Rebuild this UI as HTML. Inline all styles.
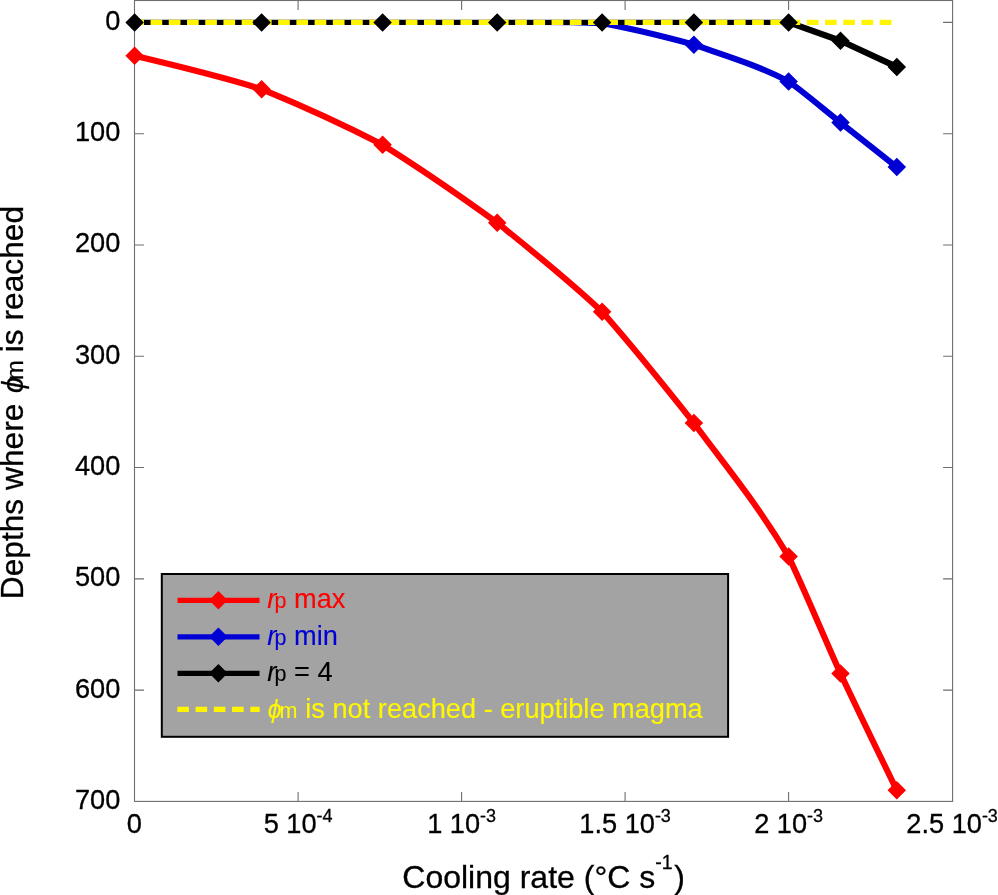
<!DOCTYPE html>
<html lang="en"><head><meta charset="utf-8"><title>Depths where ϕm is reached vs cooling rate</title>
<style>
html,body{margin:0;padding:0;background:#fff}
body{width:998px;height:895px;overflow:hidden}
svg{display:block}
text{font-family:"Liberation Sans",Arial,Helvetica,sans-serif;fill:#000;stroke:#000;stroke-width:.3px}
.tk{font-size:27.2px}
.sup{font-size:18px}
.ax{font-size:32px}
.lg{font-size:27.2px;stroke-width:.12px}
.sub{font-size:21.5px}
.it{font-style:italic}
</style></head><body>
<svg width="998" height="895" viewBox="0 0 998 895">
<rect width="998" height="895" fill="#fff"/>
<defs><clipPath id="cb"><rect x="530" y="19.9" width="420" height="200"/></clipPath></defs>
<g stroke="#6e6e6e" stroke-width="1.1" fill="none">
<rect x="134.5" y="0.5" width="818.1" height="800.9"/>
<path d="M298.1 801.4v-9.5 M298.1 0.5v9.5 M461.6 801.4v-9.5 M461.6 0.5v9.5 M625.1 801.4v-9.5 M625.1 0.5v9.5 M788.6 801.4v-9.5 M788.6 0.5v9.5 M134.5 22.4h9.5 M952.6 22.4h-9.5 M134.5 133.69h9.5 M952.6 133.69h-9.5 M134.5 244.98h9.5 M952.6 244.98h-9.5 M134.5 356.27h9.5 M952.6 356.27h-9.5 M134.5 467.56h9.5 M952.6 467.56h-9.5 M134.5 578.85h9.5 M952.6 578.85h-9.5 M134.5 690.14h9.5 M952.6 690.14h-9.5"/>
</g>
<g fill="none" stroke-linejoin="round">
<path d="M134.6 55.79 C176.93 65.85 219.27 75.91 261.6 89.17 C301.93 105.78 342.27 123.99 382.6 144.82 C420.8 168.74 459 195.07 497.2 222.72 C532.17 250.99 567.13 278.69 602.1 311.75 C632.7 346.25 663.3 384.46 693.9 423.04 C725.47 465.97 757.03 503.5 788.6 556.59 C805.9 592.97 823.2 635.23 840.5 673.45 C859.27 713.26 878.03 751.78 896.8 790.3" stroke="#ff0000" stroke-width="6.1"/>
<path d="M540 21.9C562 21.9 584 22.4 602.1 23.3 C632.7 28.82 663.3 36.37 693.9 44.66 C725.47 55.66 757.03 65.01 788.6 81.38 C805.9 93.87 823.2 108.85 840.5 122.56 C859.27 137.41 878.03 152.24 896.8 167.08" stroke="#0000d4" stroke-width="6.1" clip-path="url(#cb)"/>
<path d="M134.6 22.4H788.6" stroke="#000" stroke-width="5.2"/>
<path d="M788.6 22.4L840.5 40.76L896.8 66.92" stroke="#000" stroke-width="6.2"/>
<path d="M132.3 22.4H892" stroke="#fff500" stroke-width="5.2" stroke-dasharray="11.7 6.53"/>
</g>
<path fill="#ff0000" d="M134.6 46.54 l9.25 9.25 l-9.25 9.25 l-9.25 -9.25z M261.6 79.92 l9.25 9.25 l-9.25 9.25 l-9.25 -9.25z M382.6 135.57 l9.25 9.25 l-9.25 9.25 l-9.25 -9.25z M497.2 213.47 l9.25 9.25 l-9.25 9.25 l-9.25 -9.25z M602.1 302.5 l9.25 9.25 l-9.25 9.25 l-9.25 -9.25z M693.9 413.79 l9.25 9.25 l-9.25 9.25 l-9.25 -9.25z M788.6 547.34 l9.25 9.25 l-9.25 9.25 l-9.25 -9.25z M840.5 664.2 l9.25 9.25 l-9.25 9.25 l-9.25 -9.25z M896.8 781.05 l9.25 9.25 l-9.25 9.25 l-9.25 -9.25z"/>
<path fill="#0000d4" d="M693.9 35.41 l9.25 9.25 l-9.25 9.25 l-9.25 -9.25z M788.6 72.13 l9.25 9.25 l-9.25 9.25 l-9.25 -9.25z M840.5 113.31 l9.25 9.25 l-9.25 9.25 l-9.25 -9.25z M896.8 157.83 l9.25 9.25 l-9.25 9.25 l-9.25 -9.25z"/>
<path fill="#000" d="M134.6 13.15 l9.25 9.25 l-9.25 9.25 l-9.25 -9.25z M261.6 13.15 l9.25 9.25 l-9.25 9.25 l-9.25 -9.25z M382.6 13.15 l9.25 9.25 l-9.25 9.25 l-9.25 -9.25z M497.2 13.15 l9.25 9.25 l-9.25 9.25 l-9.25 -9.25z M602.1 13.15 l9.25 9.25 l-9.25 9.25 l-9.25 -9.25z M693.9 13.15 l9.25 9.25 l-9.25 9.25 l-9.25 -9.25z M788.6 13.15 l9.25 9.25 l-9.25 9.25 l-9.25 -9.25z M840.5 31.51 l9.25 9.25 l-9.25 9.25 l-9.25 -9.25z M896.8 57.67 l9.25 9.25 l-9.25 9.25 l-9.25 -9.25z"/>
<g class="tk" text-anchor="end">
<text x="120.3" y="29.9">0</text>
<text x="120.3" y="141.19">100</text>
<text x="120.3" y="252.48">200</text>
<text x="120.3" y="363.77">300</text>
<text x="120.3" y="475.06">400</text>
<text x="120.3" y="586.35">500</text>
<text x="120.3" y="697.64">600</text>
<text x="120.3" y="808.93">700</text>
</g>
<g class="tk" text-anchor="middle">
<text x="134.4" y="833.4">0</text>
<text x="298.1" y="833.4">5 10<tspan class="sup" dy="-11">-4</tspan></text>
<text x="461.6" y="833.4">1 10<tspan class="sup" dy="-11">-3</tspan></text>
<text x="625.1" y="833.4">1.5 10<tspan class="sup" dy="-11">-3</tspan></text>
<text x="788.6" y="833.4">2 10<tspan class="sup" dy="-11">-3</tspan></text>
<text x="952.1" y="833.4">2.5 10<tspan class="sup" dy="-11">-3</tspan></text>
</g>
<text class="ax" x="402.3" y="887.6">Cooling rate (°C s<tspan font-size="19.5" dy="-18.8">-1</tspan><tspan dy="18.8" dx="1.8">)</tspan></text>
<text class="ax" style="font-size:31.7px" transform="translate(22.7 599.2) rotate(-90)"><tspan x="0">Depths where</tspan><tspan class="it" font-size="29" x="206.1">ϕ</tspan><tspan font-size="24" x="218.9" dy="0.5">m</tspan><tspan x="247" dy="-0.5">is reached</tspan></text>
<rect x="161.8" y="574" width="566.3" height="162.8" fill="#a3a3a3" stroke="#000" stroke-width="2"/>
<path d="M177.5 600.3H259.5" stroke="#ff0000" stroke-width="5.2" fill="none"/>
<path fill="#ff0000" d="M218.4 591 l9.3 9.3 l-9.3 9.3 l-9.3 -9.3z"/>
<path d="M177.5 636.8H259.5" stroke="#0000d4" stroke-width="5.2" fill="none"/>
<path fill="#0000d4" d="M218.4 627.5 l9.3 9.3 l-9.3 9.3 l-9.3 -9.3z"/>
<path d="M177.5 673.3H259.5" stroke="#000" stroke-width="5.2" fill="none"/>
<path fill="#000" d="M218.4 664 l9.3 9.3 l-9.3 9.3 l-9.3 -9.3z"/>
<path d="M177.3 709.4H259.7" stroke="#fff500" stroke-width="5.2" stroke-dasharray="11.6 6.65" fill="none"/>
<text class="lg" y="608.1" style="fill:#ff0000;stroke:#ff0000"><tspan class="it" x="267.3">r</tspan><tspan class="sub" x="274.6">p</tspan><tspan x="294.1">max</tspan></text>
<text class="lg" y="644.6" style="fill:#0000d4;stroke:#0000d4"><tspan class="it" x="267.3">r</tspan><tspan class="sub" x="274.6">p</tspan><tspan x="294.1">min</tspan></text>
<text class="lg" y="681.1" style="fill:#000;stroke:#000"><tspan class="it" x="267.3">r</tspan><tspan class="sub" x="274.6">p</tspan><tspan x="294.1">= 4</tspan></text>
<text class="lg" y="717.5" style="fill:#fff800;stroke:#fff800"><tspan class="it" font-size="25" x="267.8">ϕ</tspan><tspan class="sub" x="279.5">m</tspan><tspan x="305.3">is not reached - eruptible magma</tspan></text>
</svg></body></html>
